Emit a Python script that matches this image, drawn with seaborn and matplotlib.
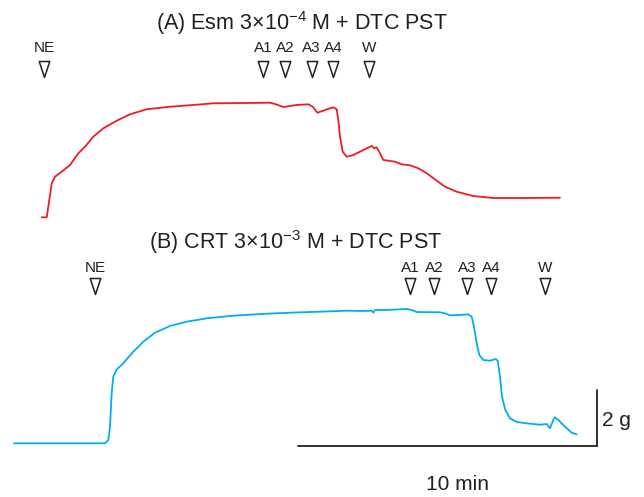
import numpy as np
import pandas as pd
import matplotlib
matplotlib.use("Agg")
import matplotlib.pyplot as plt
from matplotlib.path import Path
import seaborn as sns

# ---------------- data (minutes, grams) ----------------
a_time = [0.000, 0.168, 0.255, 0.335, 0.446, 0.670, 0.949, 1.227, 1.452, 1.730,
          2.065, 2.514, 2.960, 3.520, 4.301, 5.196, 5.753, 6.872, 7.653, 7.821,
          8.099, 8.548, 8.937, 9.085, 9.239, 9.440, 9.665, 9.775, 9.889, 9.943,
          10.000, 10.090, 10.225, 10.446, 10.781, 11.063, 11.140, 11.230, 11.341, 11.451,
          11.619, 11.844, 12.068, 12.347, 12.625, 12.907, 13.242, 13.520, 13.912, 14.469,
          15.139, 16.034, 17.375]
a_force = [0.000, 0.000, 0.622, 1.223, 1.460, 1.640, 1.881, 2.302, 2.540, 2.899,
           3.201, 3.475, 3.705, 3.885, 3.978, 4.050, 4.101, 4.112, 4.122, 4.076,
           3.968, 4.040, 4.065, 3.978, 3.763, 3.835, 3.921, 3.957, 3.885, 3.500,
           2.899, 2.360, 2.180, 2.241, 2.421, 2.565, 2.482, 2.518, 2.302, 2.061,
           2.036, 2.000, 1.906, 1.871, 1.763, 1.583, 1.317, 1.101, 0.921, 0.766,
           0.694, 0.694, 0.705]

b_time = [0.000, 3.051, 3.161, 3.218, 3.275, 3.329, 3.443, 3.610, 3.999, 4.335,
          4.727, 5.230, 5.789, 6.460, 7.352, 8.471, 9.588, 10.258, 11.153, 11.710,
          11.991, 12.045, 12.102, 12.494, 12.940, 13.164, 13.332, 13.500, 14.281, 14.449,
          14.616, 14.951, 15.230, 15.344, 15.421, 15.511, 15.598, 15.733, 15.957, 16.148,
          16.215, 16.292, 16.359, 16.470, 16.628, 16.852, 17.187, 17.409, 17.633, 17.858,
          17.968, 18.079, 18.136, 18.247, 18.471, 18.696, 18.863]
b_force = [0.000, 0.000, 0.119, 0.597, 1.799, 2.396, 2.662, 2.817, 3.295, 3.655,
           3.978, 4.219, 4.374, 4.496, 4.590, 4.662, 4.712, 4.734, 4.770, 4.759,
           4.770, 4.698, 4.795, 4.795, 4.820, 4.831, 4.795, 4.723, 4.712, 4.676,
           4.604, 4.615, 4.640, 4.554, 4.194, 3.597, 3.176, 2.996, 2.971, 3.032,
           2.971, 2.396, 1.676, 1.198, 0.899, 0.766, 0.719, 0.694, 0.669, 0.694,
           0.540, 0.838, 0.935, 0.838, 0.597, 0.381, 0.324]

event_labels = ["NE", "A1", "A2", "A3", "A4", "W"]
a_event_time = [0.08, 7.43, 8.16, 9.05, 9.76, 10.98]
b_event_time = [2.72, 13.28, 14.08, 15.18, 15.99, 17.80]

title_a = "(A) Esm 3$\\times$10$^{-4}$ M + DTC PST"
title_b = "(B) CRT 3$\\times$10$^{-3}$ M + DTC PST"

scale_minutes = 10
scale_grams = 2

# ---------------- style ----------------
sns.set_theme(style="white")
plt.rcParams["font.family"] = ["Liberation Sans", "DejaVu Sans"]
plt.rcParams["mathtext.fontset"] = "custom"
plt.rcParams["mathtext.rm"] = "Liberation Sans"
plt.rcParams["mathtext.it"] = "Liberation Sans"
plt.rcParams["mathtext.default"] = "regular"

RED = "#ED1C24"
BLUE = "#00AEEF"
INK = "#231F20"

W, H = 644, 497
PX_MIN = 29.83   # pixels per minute
PX_G = 27.8      # pixels per gram

fig = plt.figure(figsize=(W / 100, H / 100), dpi=100)


def make_axes(top_px, bottom_px, x0_px, y0_px):
    ax = fig.add_axes([0, (H - bottom_px) / H, 1, (bottom_px - top_px) / H])
    ax.set_xlim(-x0_px / PX_MIN, (W - x0_px) / PX_MIN)
    ax.set_ylim((y0_px - bottom_px) / PX_G, (y0_px - top_px) / PX_G)
    ax.axis("off")
    return ax


ax_a = make_axes(0, 235, 41.7, 217.3)
ax_b = make_axes(235, 497, 14.0, 443.3)

df_a = pd.DataFrame({"time": a_time, "force": a_force})
df_b = pd.DataFrame({"time": b_time, "force": b_force})
sns.lineplot(data=df_a, x="time", y="force", ax=ax_a, color=RED, lw=1.3,
             estimator=None, sort=False)
sns.lineplot(data=df_b, x="time", y="force", ax=ax_b, color=BLUE, lw=1.3,
             estimator=None, sort=False)
for ax in (ax_a, ax_b):
    ax.axis("off")

tri = Path([(-0.33, 0.5), (0.33, 0.5), (0.0, -0.5), (-0.33, 0.5)],
           [Path.MOVETO, Path.LINETO, Path.LINETO, Path.CLOSEPOLY])


def events(ax, times, y0_px, label_px, tri_px):
    ly = (y0_px - label_px) / PX_G
    ty = (y0_px - tri_px) / PX_G
    for lab, t in zip(event_labels, times):
        ax.text(t, ly, lab, ha="center", va="center", fontsize=11, color=INK)
        ax.plot([t], [ty], marker=tri, ms=11.5, mfc="white", mec=INK, mew=1.1,
                ls="none")


events(ax_a, a_event_time, 217.3, 48, 69)
events(ax_b, b_event_time, 443.3, 268, 286)

fig.text(302 / W, 1 - 23 / H, title_a, ha="center", va="center", fontsize=15.5, color=INK)
fig.text(296 / W, 1 - 242 / H, title_b, ha="center", va="center", fontsize=15.5, color=INK)

# scale bar (in panel B units)
bx0 = (298.3 - 14.0) / PX_MIN
by0 = (443.3 - 445.7) / PX_G
ax_b.plot([bx0, bx0 + scale_minutes, bx0 + scale_minutes],
          [by0, by0, by0 + scale_grams], color=INK, lw=1.3,
          solid_joinstyle="miter")
ax_b.text(bx0 + scale_minutes + 0.19, by0 + scale_grams * 0.45, f"{scale_grams} g",
          ha="left", va="center", fontsize=15, color=INK)
ax_b.text(bx0 + scale_minutes / 2 + 0.34, (443.3 - 485) / PX_G, f"{scale_minutes} min",
          ha="center", va="center", fontsize=15, color=INK)

fig.savefig("out.png", dpi=100)
